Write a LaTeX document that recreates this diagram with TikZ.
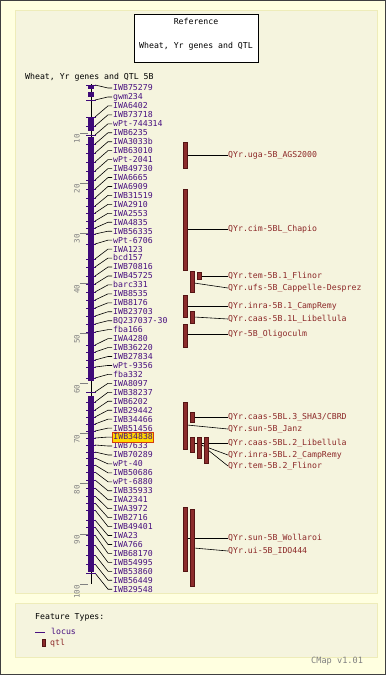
\documentclass[tikz,border=0pt]{standalone}
\usepackage{fontspec}
\newfontfamily\pix{DejaVu Sans Mono}
\definecolor{outerbg}{RGB}{255,255,224}
\definecolor{panelbg}{RGB}{245,244,222}
\definecolor{panelline}{RGB}{238,236,185}
\definecolor{locpurple}{RGB}{72,16,128}
\definecolor{barpurple}{RGB}{62,10,120}
\definecolor{qtlfill}{RGB}{140,44,44}
\definecolor{qtldraw}{RGB}{85,20,20}
\definecolor{qtltext}{RGB}{140,40,40}
\definecolor{hlfill}{RGB}{255,215,0}
\definecolor{hldraw}{RGB}{210,60,20}
\definecolor{scalegray}{RGB}{128,128,128}
\tikzset{
  basetext/.style={inner sep=0pt, font=\pix\fontsize{8.2}{9}\selectfont, text height=5.8pt, text depth=0pt},
  loclabel/.style={basetext, anchor=west, inner xsep=1pt, inner ysep=0.5pt, text=locpurple},
  qtllabel/.style={basetext, anchor=west, text=qtltext},
  blacktext/.style={basetext, text=black},
  leader/.style={draw=black, line width=0.6pt},
  loctick/.style={draw=barpurple, line width=0.8pt},
  qtlbar/.style={fill=qtlfill, draw=qtldraw, line width=0.5pt, inner sep=0pt, minimum width=4pt},
  scaletick/.style={draw=scalegray, line width=0.6pt},
  scalelabel/.style={inner sep=0pt, font=\pix\fontsize{7.5}{8}\selectfont, text=scalegray, rotate=90, anchor=east},
  panel/.style={fill=panelbg, draw=panelline, line width=1pt}
}
\begin{document}
\begin{tikzpicture}[x=1pt,y=-1pt]
\useasboundingbox (0,0) rectangle (386,675);
\fill[outerbg] (0,0) rectangle (386,675);
\draw[black!75, line width=1pt] (0.5,0.5) rectangle (385.5,674.5);
% panels
\draw[panel] (15,10) rectangle (377,593);
\draw[panel] (15,603) rectangle (377,657);
% reference box
\node[draw=black, fill=white, line width=0.8pt, minimum width=124pt, minimum height=48pt, anchor=north west, inner sep=0pt] (refbox) at (134,14) {};
\node[blacktext] (reftitle) at (196,22) {Reference};
\node[blacktext] (refname) at (196,46) {Wheat, Yr genes and QTL};
\node[blacktext, anchor=west] (maptitle) at (25,77) {Wheat, Yr genes and QTL 5B};
% scale
\foreach \v in {10,20,...,100} {
  \pgfmathsetmacro\ty{82.9+5.011*\v}
  \draw[scaletick] (80,\ty) -- (88,\ty);
  \node[scalelabel] (S\v) at (77,\ty+1) {\v};
}
% chromosome
\draw[black, line width=0.8pt] (91,84) -- (91,584);
\fill[barpurple] (88,85) rectangle (94,89);
\fill[barpurple] (88,92) rectangle (94,97);
\fill[barpurple] (88,117) rectangle (94,131);
\fill[barpurple] (88,137) rectangle (94,381);
\fill[barpurple] (88,396) rectangle (94,572);
% loci
\foreach \i/\ly/\nm in {
 1/85/IWB75279, 2/100/gwm234, 3/117/IWA6402, 4/126/IWB73718, 5/135/wPt-744314,
 6/144/IWB6235, 7/153/IWA3033b, 8/162/IWB63010, 9/171/wPt-2041, 10/180/IWB49730,
 11/189/IWA6665, 12/198/IWA6909, 13/206/IWB31519, 14/213/IWA2910, 15/221/IWA2553,
 16/228/IWA4835, 17/234/IWB56335, 18/244/wPt-6706, 19/259/IWA123, 20/267/bcd157,
 21/276/IWB70816, 22/284/IWB45725, 23/292/barc331, 24/300/IWB8535, 25/308/IWB8176,
 26/316/IWB23703, 27/324/BQ237037-30, 28/332/fba166, 29/345/IWA4280, 30/352/IWB36220,
 31/360/IWB27834, 32/367/wPt-9356, 33/378/fba332, 34/392/IWA8097, 35/402/IWB38237,
 36/410/IWB6202, 37/417/IWB29442, 38/424/IWB34466, 39/431/IWB51456,
 41/445/IWB7633, 42/452/IWB70289, 43/458/wPt-40, 44/465/IWB50686, 45/472/wPt-6880,
 46/480/IWB35933, 47/488/IWA2341, 48/496/IWA3972, 49/503/IWB2716, 50/510/IWB49401,
 51/520/IWA23, 52/527/IWA766, 53/535/IWB68170, 54/545/IWB54995, 55/555/IWB53860,
 56/564/IWB56449, 57/573/IWB29548} {
  \pgfmathsetmacro\lab{88+8.95*(\i-1)}
  \node[loclabel] (N\i) at (112,\lab) {\nm};
  \coordinate (L\i) at (95,\ly);
  \draw[leader] (L\i) -- ([xshift=-4pt]N\i.west) -- (N\i.west);
  \draw[loctick] (86,\ly) -- (96,\ly);
}
% highlighted locus
\node[loclabel, fill=hlfill, draw=hldraw, line width=0.8pt, inner ysep=2pt] (N40) at (112,437.05) {IWB34838};
\coordinate (L40) at (95,438);
\draw[leader] (L40) -- ([xshift=-4pt]N40.west) -- (N40.west);
\draw[loctick] (86,438) -- (96,438);
% QTL labels
\node[qtllabel] (Q1) at (228,155) {QYr.uga-5B\_AGS2000};
\node[qtllabel] (Q2) at (228,229) {QYr.cim-5BL\_Chapio};
\node[qtllabel] (Q3) at (228,276) {QYr.tem-5B.1\_Flinor};
\node[qtllabel] (Q4) at (228,288) {QYr.ufs-5B\_Cappelle-Desprez};
\node[qtllabel] (Q5) at (228,306) {QYr.inra-5B.1\_CampRemy};
\node[qtllabel] (Q6) at (228,319) {QYr.caas-5B.1L\_Libellula};
\node[qtllabel] (Q7) at (228,334) {QYr-5B\_Oligoculm};
\node[qtllabel] (Q8) at (228,417) {QYr.caas-5BL.3\_SHA3/CBRD};
\node[qtllabel] (Q9) at (228,429) {QYr.sun-5B\_Janz};
\node[qtllabel] (Q10) at (228,443) {QYr.caas-5BL.2\_Libellula};
\node[qtllabel] (Q11) at (228,455) {QYr.inra-5BL.2\_CampRemy};
\node[qtllabel] (Q12) at (228,466) {QYr.tem-5B.2\_Flinor};
\node[qtllabel] (Q13) at (228,538) {QYr.sun-5B\_Wollaroi};
\node[qtllabel] (Q14) at (228,551) {QYr.ui-5B\_IDO444};
% QTL connector start points
\coordinate (B1) at (187,155);
\coordinate (B2) at (187,229);
\coordinate (B3) at (201,276);
\coordinate (B4) at (194,283);
\coordinate (B5) at (187,306);
\coordinate (B6) at (194,317);
\coordinate (B7) at (187,334);
\coordinate (B8) at (194,417);
\coordinate (B9) at (187,425);
\coordinate (B10) at (194,443);
\coordinate (B11) at (201,445);
\coordinate (B12) at (208,450);
\coordinate (B13) at (187,538);
\coordinate (B14) at (194,548);
\foreach \k in {1,...,14} {\draw[leader] (B\k) -- (Q\k.west);}
% QTL bars
\node[qtlbar, minimum height=26pt] (R1) at (185,155) {};
\node[qtlbar, minimum height=81pt] (R2) at (185,229.5) {};
\node[qtlbar, minimum height=21pt] (R4) at (192,281.5) {};
\node[qtlbar, minimum height=7pt] (R3) at (199,275.5) {};
\node[qtlbar, minimum height=22pt] (R5) at (185,306) {};
\node[qtlbar, minimum height=12pt] (R6) at (192,317) {};
\node[qtlbar, minimum height=23pt] (R7) at (185,335.5) {};
\node[qtlbar, minimum height=47pt] (R9) at (185,425.5) {};
\node[qtlbar, minimum height=10pt] (R8) at (192,417) {};
\node[qtlbar, minimum height=15pt] (R10) at (192,444.5) {};
\node[qtlbar, minimum height=21pt] (R11) at (199,447.5) {};
\node[qtlbar, minimum height=26pt] (R12) at (206,450) {};
\node[qtlbar, minimum height=64pt] (R13) at (185,539) {};
\node[qtlbar, minimum height=77pt] (R14) at (192,547.5) {};
% legend
\node[blacktext, anchor=west] (ftypes) at (35,617) {Feature Types:};
\coordinate (lg1) at (35,632);
\node[basetext, anchor=west, text=locpurple] (lglocus) at (51,632) {locus};
\draw[draw=locpurple, line width=0.8pt] (lg1) -- ([xshift=-6pt]lglocus.west);
\node[qtlbar, minimum width=3pt, minimum height=7pt] (lgbar) at (44,642.5) {};
\node[basetext, anchor=west, text=qtltext] (lgqtl) at (50,643) {qtl};
\node[inner sep=0pt, anchor=west, font=\pix\fontsize{8.6}{9}\selectfont, text=scalegray] (cmap) at (311,661) {CMap v1.01};
\end{tikzpicture}
\end{document}
